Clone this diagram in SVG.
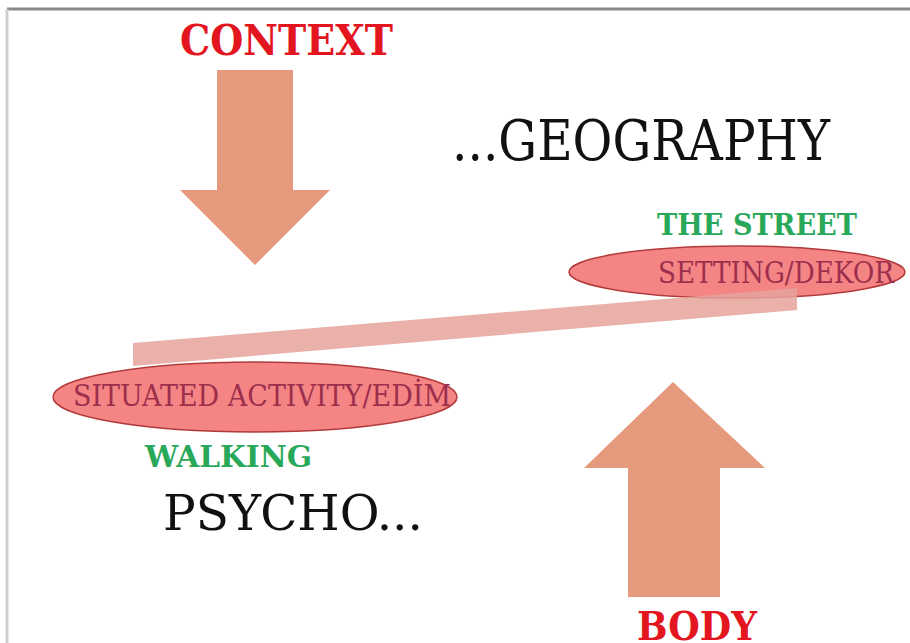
<svg xmlns="http://www.w3.org/2000/svg" width="910" height="643" viewBox="0 0 910 643">
<style>
.arrow{fill:#e59a7d}
.oval{fill:#f58484;stroke:#b23a3a;stroke-width:1.5}
.red{fill:#e3151f;font-family:"DejaVu Serif","Liberation Serif",serif;font-weight:bold}
.black{fill:#111;font-family:"DejaVu Serif","Liberation Serif",serif}
.green{fill:#2aa85a;font-family:"DejaVu Serif","Liberation Serif",serif;font-weight:bold}
.inner{fill:#9c2f4c;font-family:"DejaVu Serif","Liberation Serif",serif}
</style>
<rect x="0" y="0" width="910" height="643" fill="#ffffff"/>
<line x1="7" y1="9" x2="910" y2="9" stroke="#8a8a8a" stroke-width="3"/>
<line x1="7" y1="9" x2="7" y2="643" stroke="#cfcfcf" stroke-width="3"/>

<g id="context">
<polygon class="arrow" points="217,70 293,70 293,190 330,190 255,265 180,190 217,190"/>
<text class="red" x="180" y="55" font-size="42" textLength="213" lengthAdjust="spacingAndGlyphs">CONTEXT</text>
</g>

<g id="geography">
<text class="black" x="452" y="160" font-size="56" textLength="378" lengthAdjust="spacingAndGlyphs">...GEOGRAPHY</text>
</g>

<g id="setting">
<ellipse class="oval" cx="737" cy="272" rx="168" ry="26"/>
<text class="inner" x="658" y="283" font-size="30" textLength="236" lengthAdjust="spacingAndGlyphs">SETTING/DEKOR</text>
</g>

<g id="connectors">
<polygon points="133,343 797,288 797,310 133,366" fill="#e6a39c" fill-opacity="0.85"/>
</g>

<g id="street">
<text class="green" x="657" y="235" font-size="30" textLength="200" lengthAdjust="spacingAndGlyphs">THE STREET</text>
</g>

<g id="activity">
<ellipse class="oval" cx="255" cy="397" rx="202" ry="35"/>
<text class="inner" x="73" y="406" font-size="30" textLength="378" lengthAdjust="spacingAndGlyphs">SITUATED ACTIVITY/EDİM</text>
</g>

<g id="walking">
<text class="green" x="145" y="467" font-size="30" textLength="167" lengthAdjust="spacingAndGlyphs">WALKING</text>
</g>

<g id="psycho">
<text class="black" x="163" y="530" font-size="48" textLength="260" lengthAdjust="spacingAndGlyphs">PSYCHO...</text>
</g>

<g id="body">
<polygon class="arrow" points="673,382 765,468 720,468 720,597 628,597 628,468 584,468"/>
<text class="red" x="637" y="640" font-size="40" textLength="120" lengthAdjust="spacingAndGlyphs">BODY</text>
</g>
</svg>
